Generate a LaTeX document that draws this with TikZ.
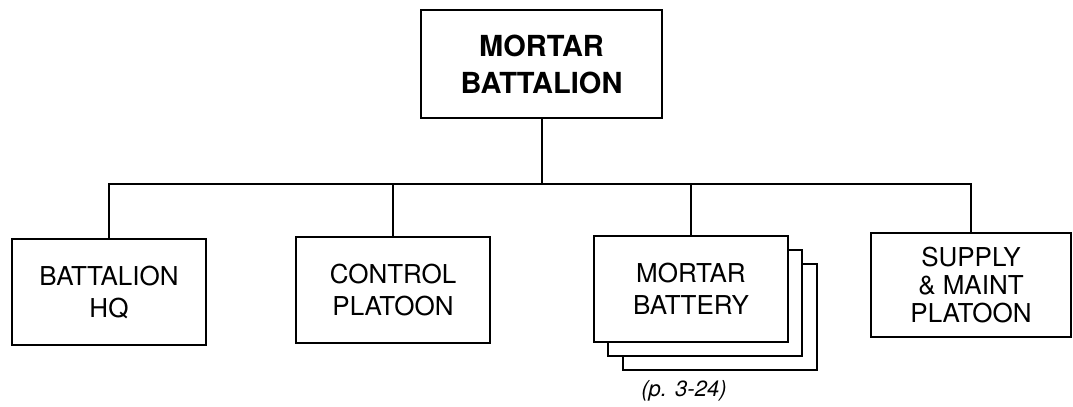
\documentclass[tikz,border=0pt]{standalone}
\usepackage{fontspec}
\setmainfont{TeX Gyre Heros}
\tikzset{
  orgline/.style={line width=1pt, draw=black, line cap=rect},
  orgbox/.style={draw=black, line width=1pt, fill=white, align=center, inner sep=2pt,
    font=\fontsize{13}{16}\selectfont},
  pagenote/.style={font=\itshape\fontsize{11}{12}\selectfont, inner sep=1pt}
}

\begin{document}
\begin{tikzpicture}[
  x=0.5pt, y=-0.5pt,
  unit/.style={orgbox, minimum width=97pt, minimum height=53pt}
]
\useasboundingbox (0,0) rectangle (1073,407);
\node[orgbox, minimum width=120.5pt, minimum height=54pt, font=\bfseries\fontsize{14.5}{18.5}\selectfont] at (541.5,64) (bn) {MORTAR\\BATTALION};
\node[unit] at (109,292) (hq) {BATTALION\\HQ};
\node[unit] at (393,290) (ctrl) {CONTROL\\PLATOON};
% stacked batteries, back copies first
\node[unit] at (719.5,316.5) (batt3) {};
\node[unit] at (705,302.5) (batt2) {};
\node[unit] at (691,289) (batt) {MORTAR\\BATTERY};
\node[unit, minimum width=100pt, minimum height=52pt, font=\fontsize{13}{14}\selectfont] at (971,285) (supply) {SUPPLY\\\& MAINT\\PLATOON};
\node[pagenote] at (684,391) (pref) {(p. 3-24)};

% command lines
\coordinate (bus) at (541.5,184);
\draw[orgline] (bn.south) -- (bus);
\draw[orgline] (hq.north) |- (bus) -| (supply.north);
\draw[orgline] (ctrl.north) -- (ctrl.north |- bus);
\draw[orgline] (batt.north) -- (batt.north |- bus);
\end{tikzpicture}
\end{document}
